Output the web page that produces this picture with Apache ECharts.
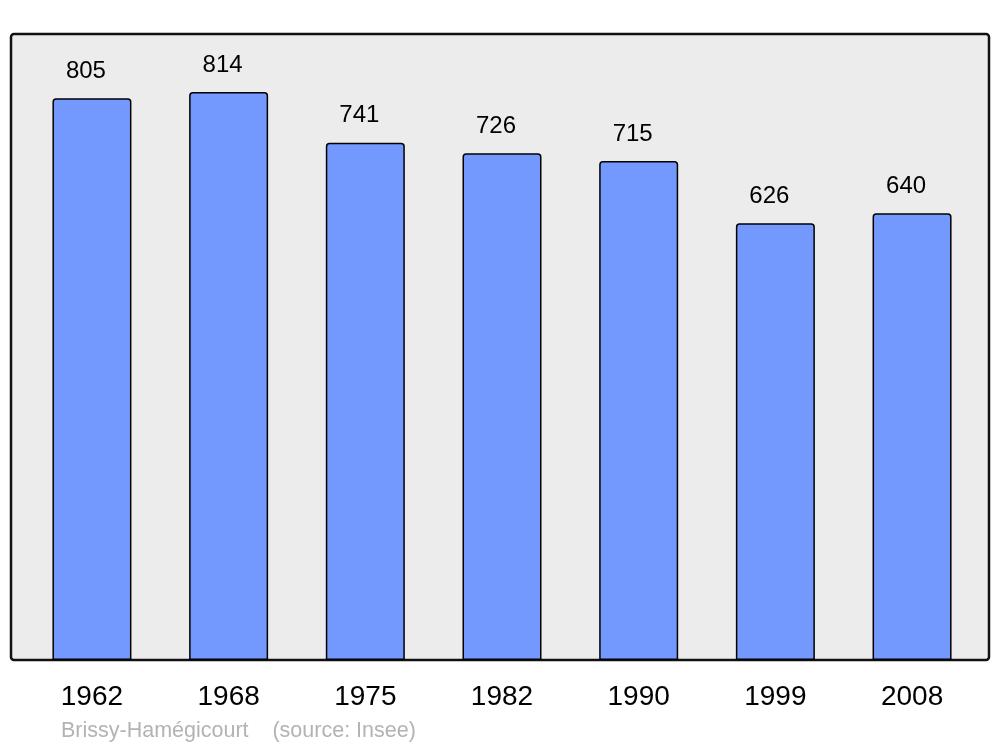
<!DOCTYPE html>
<html>
<head>
<meta charset="utf-8">
<script src="https://cdn.jsdelivr.net/npm/echarts@6/dist/echarts.min.js"></script>
<style>
  html, body { margin: 0; padding: 0; background: #fff; }
  #chart { width: 1000px; height: 747px; }
</style>
</head>
<body>
<div id="chart"></div>
<script>
// population par recensement
const years = ['1962', '1968', '1975', '1982', '1990', '1999', '2008']
const population = [805, 814, 741, 726, 715, 626, 640]
const footer = 'Brissy-Hamégicourt    (source: Insee)'

const chart = echarts.init(document.getElementById('chart'))

const option = {
  backgroundColor: '#fff',
  animation: false,
  textStyle: { fontFamily: 'Liberation Sans, Arial, sans-serif' },
  grid: { left: 23.6, right: 19.6, top: 34, bottom: 87 },
  graphic: [
    {
      type: 'rect',
      z: -10,
      silent: true,
      shape: { x: 11, y: 34, width: 978, height: 626, r: 3 },
      style: { fill: '#ececec', stroke: '#111', lineWidth: 2.5 },
    },
    {
      type: 'text',
      left: 61,
      top: 720,
      silent: true,
      style: {
        text: footer,
        fill: '#b3b3b3',
        font: '21.5px "Liberation Sans", Arial, sans-serif',
      },
    },
  ],
  xAxis: {
    type: 'category',
    data: years,
    axisLine: { show: false },
    axisTick: { show: false },
    axisLabel: { color: '#000', fontSize: 28, margin: 23 },
  },
  yAxis: {
    type: 'value',
    min: 0,
    max: 897,
    show: false,
    splitLine: { show: false },
  },
  series: [
    {
      type: 'bar',
      data: population,
      barWidth: 79,
      itemStyle: {
        color: '#7399ff',
        borderColor: '#000',
        borderWidth: 1.5,
        borderRadius: [3, 3, 0, 0],
      },
      label: {
        show: true,
        position: 'top',
        distance: 15,
        offset: [-6, 0],
        color: '#000',
        fontSize: 24,
      },
    },
  ],
}

chart.setOption(option)
</script>
</body>
</html>
